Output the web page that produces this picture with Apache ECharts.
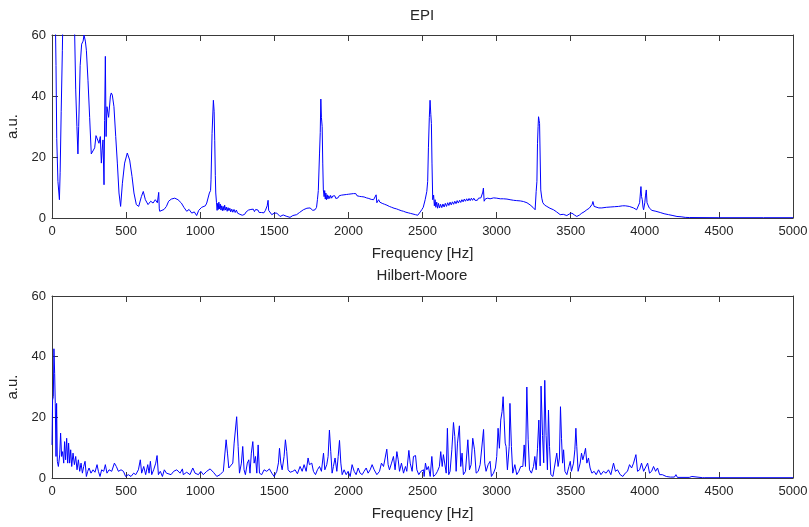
<!DOCTYPE html>
<html>
<head>
<meta charset="utf-8">
<script src="https://cdn.jsdelivr.net/npm/echarts@6/dist/echarts.min.js"></script>
<style>
html,body{margin:0;padding:0;background:#fff;}
#c{width:809px;height:527px;}
</style>
</head>
<body>
<div id="c"></div>
<script>
// ---- Data ----
const titles = ['EPI', 'Hilbert-Moore'];
const xTicks = [0, 500, 1000, 1500, 2000, 2500, 3000, 3500, 4000, 4500, 5000];
const yTicks = [0, 20, 40, 60];

const epiFreq = [0,20,27,32,40,50,55,62,70,76,100,140,153,160,168,175,180,190,200,210,216,225,232,243,254,265,277,288,297,306,317,326,333,338,344,351,355,360,365,371,382,394,400,407,418,430,441,452,463,475,490,508,515,524,540,553,569,585,603,616,630,648,666,682,697,711,720,724,727,738,756,772,787,805,828,850,873,890,909,925,943,960,976,990,999,1010,1021,1035,1044,1055,1062,1070,1073,1080,1089,1094,1098,1102,1105,
1110,1114,1118,1122,1126,1130,1135,1140,1145,1150,1155,1160,1165,1170,1176,1182,1188,1194,1200,1206,1213,1220,1228,1236,1244,1252,1260,1268,1276,1284,1292,1300,1310,1318,1326,1334,1342,1350,1358,1366,1374,1382,1390,1398,1406,1414,1422,1430,1440,
1452,1458,1462,1472,1483,1500,1517,1539,1560,1580,1606,1625,1651,1670,1696,1720,1741,1760,1775,1785,1791,1797,1805,1810,1814,1818,1823,1827,1831,
1836,1840,1844,1848,1852,1857,1862,1868,1874,1880,1887,1894,1901,1908,1915,1922,1930,1938,1946,1954,1962,1970,1978,1986,1994,2002,2010,2018,2026,2034,2042,2050,2058,2066,2074,2082,2090,2098,2106,2114,2122,2130,2138,2146,2154,2162,2170,2178,2183,
2187,2192,
2196,2204,2212,2220,2228,2236,2244,2252,2260,2268,2276,2284,2292,2300,2308,2316,2324,2332,2340,2348,2356,2364,2372,2380,2388,2396,2404,2412,2420,2428,2436,2444,2452,2460,2468,2473,
2485,2495,2505,2518,2529,2535,2540,2546,2551,2556,2560,2564,2569,
2575,2580,2585,2590,2596,2602,2608,2615,2622,2630,2638,2646,2654,2662,2670,2678,2686,2694,2702,2710,2718,2726,2734,2742,2750,2758,2766,2774,2782,2790,2798,2806,2814,2822,2830,2838,2846,2854,2862,2870,2878,2886,2894,2900,
2907,2911,2916,2925,2940,2956,2980,3001,3025,3046,3070,3091,3115,3136,3160,3181,3205,3226,3245,3260,3267,3272,3276,3280,3283,3287,3290,3294,3298,3305,3312,3325,3339,3360,3384,3405,3429,3450,3474,3490,3508,3525,3541,3560,3575,3590,3609,3625,3636,3645,3650,3658,3665,3690,3710,3740,3766,3795,3823,3850,3868,3895,3924,3945,3958,3965,3974,3978,3983,3988,3992,4000,4005,4010,4015,4019,4030,4048,4075,4104,4130,4160,4190,4217,4245,4273,4300,4500,4800,5000];
const epiAmp = [90,75,50,26,12,6,15,35,55,75,90,80,60,42,30,21,30,50,57,58,60,58,55,45,33,21,20.7,23,27,26.7,24.5,26.7,18,22,25.6,10.9,32,53,26.7,36.5,33,40,41,40.3,36.5,26.7,18,8.2,3.8,11.4,18,21.3,21.6,19,13.6,8.2,4.4,3.8,7,8.7,6,4.4,5.5,4.9,6,5,8.4,3,2.2,1.6,2.8,3.8,5.5,6.2,6.5,6,4.9,3.5,2.2,2.8,1.6,2,0.8,2.5,2.2,3.5,3.3,4,4.9,5.5,8.2,9,12.5,27.7,38.6,35,25.5,14,8.2,
5,2.5,4.8,2.8,5.2,3,4.6,2.6,4,2.4,3.8,2.5,4.2,2.6,3.6,2.2,3.4,2.4,3.2,2,2.9,1.9,2.8,1.8,2.6,1.6,2.2,1.2,1.8,0.9,1.5,1.2,2,1.6,2.6,2,2.8,2.2,2.9,2.1,2.8,2.3,2.6,1.8,2.4,1.8,2.3,1.7,2.5,
4,5.8,2.5,2.2,1.1,1.6,1.6,0.5,1,0.6,0.2,0.8,1.1,1.8,2.7,3.2,3.3,2.5,2.7,3.5,6,9,21,28,39,33,30,18,9.2,
7,9,6.2,8.2,6,7.6,6.2,7.3,6.4,7.4,6.5,7.2,6.6,7.3,6.4,7,6.6,7.3,6.8,7.5,6.9,7.6,7,7.7,7.1,7.8,7.3,7.9,7.4,8,7.5,8,7.3,7.8,7.1,7.6,7,7.5,6.9,7.3,6.6,7.1,6.4,6.8,6.1,6.6,6,6.5,6.4,
7.6,5,
5.4,6,5.2,5.7,4.8,5.3,4.5,5,4.2,4.6,3.8,4.3,3.5,4,3.2,3.7,3,3.4,2.7,3.1,2.4,2.9,2.2,2.7,1.9,2.4,1.7,2.2,1.5,2,1.3,1.9,1.1,1.7,0.9,1.1,
2,2.7,3.5,6,8.7,12,23,33,38.6,34,31,18,6,
7.5,4,6,3.5,5.2,3.2,4.8,3.3,4.5,3.4,4.6,3.6,4.8,3.8,5,4.1,5.2,4.3,5.3,4.5,5.5,4.7,5.7,4.9,5.8,5.1,6,5.3,6.2,5.5,6.3,5.6,6.4,5.7,6.5,5.8,6.5,5.8,6.4,5.8,6.5,5.9,6.6,6.5,
8.5,9.8,5.5,6.3,6.5,6.3,6.6,6.5,6.3,6.3,6.2,6,5.8,5.7,5.6,5.4,5,4.3,3.5,2.7,8.7,12,24.5,30,33.2,32,31,20,9.2,6.5,5,4.2,3.8,3.2,2.7,2,1.1,1.2,0.8,1.3,1.6,1,0.5,1,1.6,2,2.7,3.2,3.8,4.5,5.4,3.8,3.3,3.3,3.3,3.5,3.6,3.7,3.8,4,4,3.8,3.3,2.7,2.2,5,10.3,7,6,3.5,2.7,5,7.5,9.2,5,4.9,3.3,2.5,2.2,1.8,1.4,1.1,0.8,0.5,0.4,0.2,0.15,0.1,0.1,0.1];

const hmFreq = [0,4,9,13,18,22,27,31,36,43,52,58,65,72,79,85,92,99,106,112,119,126,133,142,151,160,169,178,187,196,205,214,223,232,241,250,263,277,290,304,313,324,335,349,360,371,385,403,421,434,448,466,482,497,515,533,551,565,583,596,605,619,632,646,655,664,673,686,700,709,718,731,745,758,772,785,803,821,842,864,880,886,909,931,950,965,988,1004,1021,1044,1067,1089,1112,1134,1156,1168,1175,1184,1193,1202,1220,1229,1238,1246,1256,1265,1278,1287,1296,1305,1318,1328,1336,1345,1355,1364,1373,1382,1391,1400,1415,1431,1449,1467,1483,1499,1517,1528,1535,1544,1553,1566,1575,1584,1593,1607,1625,1640,1656,1674,1688,1701,1715,1728,1737,1753,1764,1778,1791,1805,1818,1832,1841,1854,1863,1872,1881,1890,1899,1910,1922,1931,1940,1949,1958,1971,1985,1998,2012,2025,2039,2052,2066,2079,2093,2106,2120,2133,2147,2160,2174,2192,2210,2223,2237,2248,2259,2268,2277,2291,2304,2315,2327,2336,2345,2358,2372,2385,2394,2408,2417,2430,2439,2453,2462,2475,2489,2498,2507,2511,2520,2529,2540,2552,2563,2574,2588,2601,2614,2623,2633,2641,2650,2660,2668,2677,2686,2698,2709,2718,2727,2736,2749,2758,2767,2776,2790,2806,2817,2828,2839,2851,2862,2876,2889,2900,2912,2920,2929,2943,2956,2965,2979,2992,3001,3010,3019,3028,3037,3044,3051,3058,3064,3073,3085,3090,3100,3109,3123,3136,3150,3163,3177,3186,3195,3204,3213,3222,3235,3249,3258,3267,3276,3285,3294,3300,3310,3318,3325,3334,3343,3350,3357,3366,3380,3393,3406,3415,3424,3431,3438,3445,3452,3461,3474,3488,3497,3505,3519,3528,3535,3541,3550,3564,3573,3582,3591,3600,3609,3620,3631,3643,3658,3672,3688,3704,3721,3739,3755,3771,3789,3802,3816,3834,3852,3868,3883,3897,3911,3924,3940,3951,3965,3978,3992,4005,4019,4032,4046,4059,4073,4086,4100,4118,4145,4172,4200,4210,4220,4300,4318,4330,4390,4396,4405,5000];
const hmAmp = [10.9,25.7,26.8,42.6,34.4,24.6,7.1,24.6,5.5,3.8,7.6,14.8,7.1,8.7,4.9,12,6,13.1,4.9,11.5,4.9,9.3,3.8,8.2,4.4,7.1,2.7,6,2.2,4.9,1.6,3.8,5.5,0.5,2.2,3.3,1.6,2.7,1.9,4.4,2.2,0.5,2.7,2.2,4.4,1.6,2.7,2.2,4.9,3.8,2.2,2.7,2.2,0.5,1.1,0.5,1.6,1.1,2.7,6,1.6,3.8,1.1,4.4,1.6,5.5,1.1,2.7,4.9,7.4,1.1,2.2,0.5,2.7,1.6,2.2,1.1,2.2,2.7,1.6,3,1.1,1.9,1.1,3.3,1.6,1.1,2.2,1.1,2.2,3,1.9,0.5,1.1,2.2,2.7,12.6,8.2,3.3,2.7,4.9,11.5,11.5,20.2,10.4,1.6,4.9,10.4,2.7,1.1,4.9,6,1.6,8.2,12,4.9,7.1,1.6,10.9,1.6,1.1,2.7,2.2,3,1.6,0.5,2.2,5,9.8,4.9,2.7,7.1,12.6,8.7,2.7,1.9,2.2,2.7,1.4,3.8,2.2,4.4,2.2,6.6,4.4,4.9,2.2,1.1,2.7,3.8,2.2,8.2,2.7,4.4,7.1,15.8,8.7,1.6,3.8,6.6,2.2,7.1,12.4,4.9,1.1,2.7,1.1,2.2,0.5,4.4,2.2,1.1,3.3,1.6,1.1,2.2,3.3,1.6,2.7,4.4,2.7,1.1,2.2,4.9,3.8,6.6,9.5,4.4,2.7,4.9,7.1,2.7,8.7,6,2.2,4.9,1.6,3.8,2.2,9.1,4.9,2.2,7.1,7.4,2.7,1.1,2.2,2.2,2.7,0.5,4.9,2.7,3.8,0.5,7.1,0.5,1.1,2.2,3.8,8.7,3.8,7.7,8.2,1.6,16.4,1.1,2.2,9.3,18.3,13.7,2.2,11.5,17.2,3.8,8.2,1.1,2.2,12.6,2.7,4.4,13.1,9.3,1.6,2.2,4.4,4.9,16,4.9,2.2,4.4,5.5,0.5,1.6,3.3,7.1,16.4,9.8,19.1,21.9,26.8,19.1,11.5,10.4,2.7,10.4,24.6,10.4,1.6,4.4,1.1,2.2,3.8,3.8,10.9,3.8,30,12.6,2.7,1.6,3.8,7.1,2.7,9.8,19.1,4,30.3,14,5,32.2,14,2.7,22.4,10.4,1.1,0.5,1.1,8.2,3.8,6.6,23.5,13.1,4.9,9.3,2.2,1.1,3.8,5.5,2.2,4.9,9.3,16.4,10.4,2.2,4.9,8.2,6,7.7,9.8,4.9,6.6,3.3,1.6,2.2,1.1,2.7,1.1,2.2,1.6,2.7,1.1,4.9,2.2,2.7,1.1,0.5,1.6,2.2,4.4,3.3,4.9,7.7,2.2,2.7,4.9,2.2,2.7,4.9,1.6,2.2,3.8,2.2,3.3,1.1,1.1,0.5,0.3,0.3,1.1,0.2,0.2,0.5,0.1,0.1,0.5,0.1,0.1];

// ---- Chart ----
const FONT = '"Liberation Sans", Arial, sans-serif';
const TXT = '#262626';
const FRAME = '#3a3a3a';
const grids = [
  {left: 52, right: 16, top: 35, height: 183, outerBoundsMode: 'none', containLabel: false},
  {left: 52, right: 16, top: 296, height: 182, outerBoundsMode: 'none', containLabel: false}
];
function pairs(f, a) { return f.map((v, i) => [v, a[i]]); }
const plain = v => String(v);

const xAxes = [], yAxes = [];
[0, 1].forEach(g => {
  xAxes.push({
    gridIndex: g, type: 'value', position: 'bottom',
    min: xTicks[0], max: xTicks[xTicks.length - 1], interval: xTicks[1] - xTicks[0],
    axisLine: {show: true, onZero: false, lineStyle: {color: FRAME, width: 1}},
    axisTick: {show: true, inside: true, length: 6, lineStyle: {color: FRAME}},
    axisLabel: {show: true, formatter: plain, fontSize: 13, fontFamily: FONT, color: TXT, margin: 7, showMinLabel: true, showMaxLabel: true, hideOverlap: false},
    splitLine: {show: false},
    name: 'Frequency [Hz]', nameLocation: 'middle', nameGap: 28,
    nameTextStyle: {fontSize: 15, fontFamily: FONT, color: TXT}
  });
  yAxes.push({
    gridIndex: g, type: 'value', position: 'left',
    min: yTicks[0], max: yTicks[yTicks.length - 1], interval: yTicks[1] - yTicks[0],
    axisLine: {show: true, onZero: false, lineStyle: {color: FRAME, width: 1}},
    axisTick: {show: true, inside: true, length: 6, lineStyle: {color: FRAME}},
    axisLabel: {show: true, formatter: plain, fontSize: 13, fontFamily: FONT, color: TXT, margin: 6, showMinLabel: true, showMaxLabel: true},
    splitLine: {show: false},
    name: 'a.u.', nameLocation: 'middle', nameGap: 31, nameRotate: 90,
    nameTextStyle: {fontSize: 15, fontFamily: FONT, color: TXT}
  });
});
[0, 1].forEach(g => {
  xAxes.push({
    gridIndex: g, type: 'value', position: 'top',
    min: xTicks[0], max: xTicks[xTicks.length - 1], interval: xTicks[1] - xTicks[0],
    axisLine: {show: true, onZero: false, lineStyle: {color: FRAME, width: 1}},
    axisTick: {show: true, inside: true, length: 6, lineStyle: {color: FRAME}},
    axisLabel: {show: false}, splitLine: {show: false}
  });
  yAxes.push({
    gridIndex: g, type: 'value', position: 'right',
    min: yTicks[0], max: yTicks[yTicks.length - 1], interval: yTicks[1] - yTicks[0],
    axisLine: {show: true, onZero: false, lineStyle: {color: FRAME, width: 1}},
    axisTick: {show: true, inside: true, length: 6, lineStyle: {color: FRAME}},
    axisLabel: {show: false}, splitLine: {show: false}
  });
});

const chart = echarts.init(document.getElementById('c'), null, {renderer: 'canvas'});
chart.setOption({
  animation: false,
  backgroundColor: '#ffffff',
  title: [
    {text: titles[0], left: 422, top: 8, textAlign: 'center', padding: 0,
     textStyle: {fontSize: 15, fontWeight: 'normal', fontFamily: FONT, color: TXT}},
    {text: titles[1], left: 422, top: 268, textAlign: 'center', padding: 0,
     textStyle: {fontSize: 15, fontWeight: 'normal', fontFamily: FONT, color: TXT}}
  ],
  grid: grids,
  xAxis: xAxes,
  yAxis: yAxes,
  series: [
    {type: 'line', xAxisIndex: 0, yAxisIndex: 0, data: pairs(epiFreq, epiAmp),
     showSymbol: false, clip: true, lineStyle: {color: '#0000ff', width: 1}},
    {type: 'line', xAxisIndex: 1, yAxisIndex: 1, data: pairs(hmFreq, hmAmp),
     showSymbol: false, clip: true, lineStyle: {color: '#0000ff', width: 1}}
  ]
});
</script>
</body>
</html>
